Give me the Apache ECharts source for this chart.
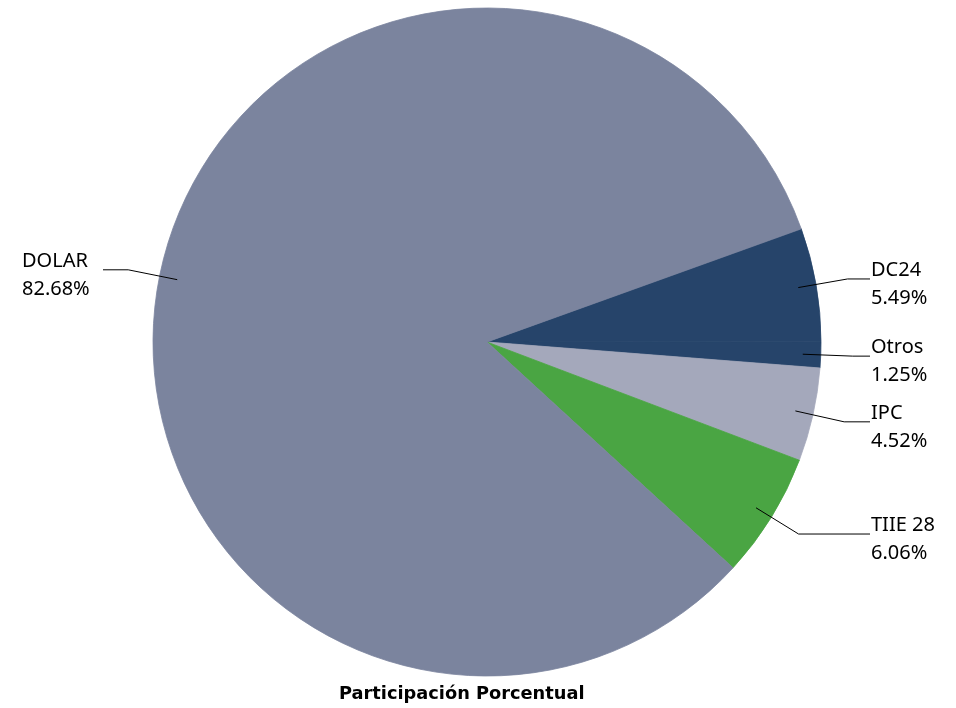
<!DOCTYPE html>
<html>
<head>
<meta charset="utf-8">
<script src="https://cdn.jsdelivr.net/npm/echarts@6/dist/echarts.min.js"></script>
<style>
  html, body { margin: 0; padding: 0; background: #ffffff; }
  #chart { width: 956px; height: 708px; }
</style>
</head>
<body>
<div id="chart"></div>
<script>
// Slices in clockwise order starting near 20° above 3 o'clock
const categories = ['DC24', 'Otros', 'IPC', 'TIIE 28', 'DOLAR'];
const shares = [5.49, 1.25, 4.52, 6.06, 82.68];
const sliceColors = ['#26446a', '#26446a', '#a4a8bb', '#4aa543', '#7b849e'];
const chartTitle = 'Participación Porcentual';

const FONT = '"Noto Sans", "DejaVu Sans", sans-serif';

const baseData = categories.map((name, i) => ({
  value: shares[i],
  name: name,
  itemStyle: { color: sliceColors[i], borderColor: sliceColors[i], borderWidth: 0.8 }
}));

const labelData = categories.map((name, i) => {
  const item = { value: shares[i], name: name };
  if (name === 'DOLAR') {
    item.label = { edgeDistance: 22, distanceToLabelLine: 11 };
  }
  return item;
});

const chart = echarts.init(document.getElementById('chart'), null, { renderer: 'canvas' });

chart.setOption({
  animation: false,
  title: {
    text: chartTitle,
    left: 334,
    top: 680,
    textStyle: { fontFamily: '"DejaVu Sans", sans-serif', fontSize: 17.8, fontWeight: 'bold', color: '#000000' }
  },
  series: [
    {
      type: 'pie',
      z: 1,
      center: [487, 342],
      radius: 334,
      startAngle: 19.8,
      clockwise: true,
      silent: true,
      label: { show: false },
      labelLine: { show: false },
      data: baseData
    },
    {
      type: 'pie',
      z: 3,
      center: [487, 342],
      radius: 316,
      startAngle: 19.8,
      clockwise: true,
      silent: true,
      avoidLabelOverlap: true,
      itemStyle: { color: 'rgba(0,0,0,0)', borderWidth: 0 },
      label: {
        show: true,
        position: 'outside',
        alignTo: 'edge',
        edgeDistance: 15,
        distanceToLabelLine: 1,
        padding: [10, 0, 0, 0],
        formatter: p => '{t|' + p.name + '}\n{t|' + p.value.toFixed(2) + '%}',
        rich: {
          t: { fontFamily: FONT, fontSize: 20, lineHeight: 28, color: '#000000', align: 'left', width: 70 }
        }
      },
      labelLine: {
        show: true,
        length: 50,
        length2: 17,
        lineStyle: { color: '#000000', width: 1 }
      },
      data: labelData
    }
  ]
});
</script>
</body>
</html>
